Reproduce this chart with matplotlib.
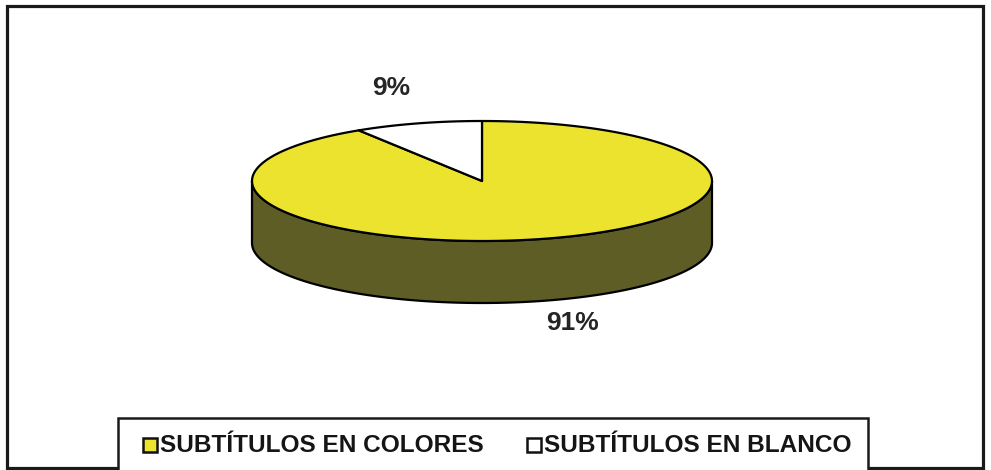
import numpy as np
import matplotlib
matplotlib.use('Agg')
import matplotlib.pyplot as plt
from matplotlib.patches import Polygon, Rectangle

# data
labels = ['SUBTÍTULOS EN COLORES', 'SUBTÍTULOS EN BLANCO']
values = [91, 9]
top_colors = ['#ECE32E', '#FFFFFF']
side_colors = ['#5E5D25', '#B0B0B0']

plt.rcParams['font.family'] = ['Liberation Sans', 'DejaVu Sans']

W, H = 991, 470
fig = plt.figure(figsize=(W / 100, H / 100), dpi=100)
ax = fig.add_axes([0, 0, 1, 1])
ax.set_xlim(0, W)
ax.set_ylim(H, 0)
ax.axis('off')

# pie geometry (pixels, y pointing down)
cx, cy = 482, 181
a, b = 230, 60
depth = 62


def ell(theta):
    t = np.radians(theta)
    return cx + a * np.cos(t), cy - b * np.sin(t)


# slices go clockwise from 12 o'clock
total = float(sum(values))
starts, ends = [], []
ang = 90.0
for v in values:
    sweep = 360.0 * v / total
    starts.append(ang - sweep)
    ends.append(ang)
    ang -= sweep

# side wall: the front half (angles -180..0) belongs to the slices that cover it
for s, e, sc in zip(starts, ends, side_colors):
    for shift in (-360, 0, 360):
        lo = max(s + shift, -180)
        hi = min(e + shift, 0)
        if hi <= lo:
            continue
        th = np.linspace(lo, hi, 120)
        xs, ys = ell(th)
        pts = np.column_stack([np.r_[xs, xs[::-1]], np.r_[ys, ys[::-1] + depth]])
        ax.add_patch(Polygon(pts, closed=True, fc=sc, ec='black', lw=1.6, zorder=2))

# top faces
for s, e, tc in zip(starts, ends, top_colors):
    th = np.linspace(s, e, 200)
    xs, ys = ell(th)
    pts = np.column_stack([np.r_[cx, xs], np.r_[cy, ys]])
    ax.add_patch(Polygon(pts, closed=True, fc=tc, ec='black', lw=1.6,
                         joinstyle='round', zorder=3))

# percentage labels outside each slice
for s, e, v in zip(starts, ends, values):
    t = np.radians((s + e) / 2.0)
    lx = cx + 1.41 * a * np.cos(t)
    ly = cy - 1.61 * b * np.sin(t)
    if np.sin(t) < 0:
        ly += depth - 13
    ax.text(lx, ly, '%d%%' % round(100 * v / total), ha='center', va='center',
            fontsize=19, fontweight='bold', color='#252525', zorder=4)

# outer frame and legend box
ax.add_patch(Rectangle((7, 6), 976, 462, fill=False, ec='#1a1a1a', lw=2.3, zorder=1))
ax.add_patch(Rectangle((118, 418), 750, 80, fc='white', ec='#1a1a1a', lw=1.8, zorder=1))

# legend entries
lx_pos = [143, 527]
for x0, lab, tc in zip(lx_pos, labels, top_colors):
    ax.add_patch(Rectangle((x0, 438), 14, 14, fc=tc, ec='#111111', lw=1.8, zorder=4))
    ax.text(x0 + 17, 445, lab, ha='left', va='center', fontsize=17.6,
            fontweight='bold', color='#151515', zorder=4)

fig.savefig('out.png', dpi=100)
